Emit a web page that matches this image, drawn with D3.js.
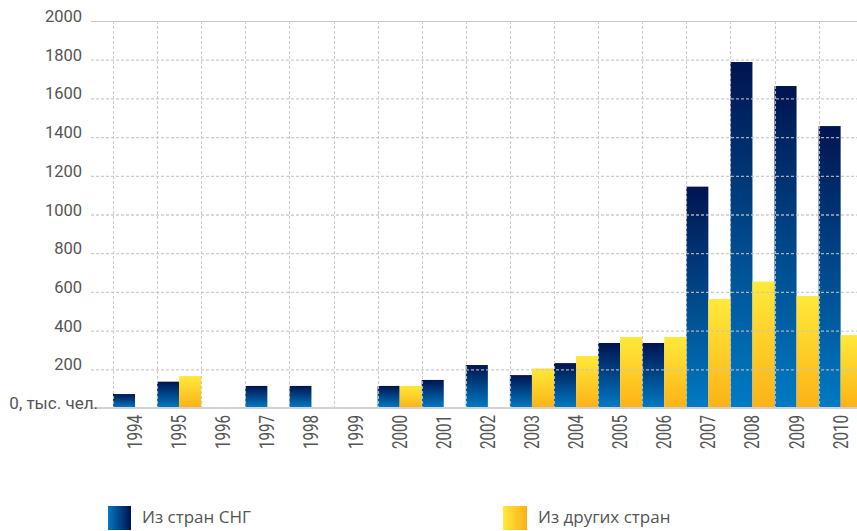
<!DOCTYPE html>
<html>
<head>
<meta charset="utf-8">
<script src="https://cdn.jsdelivr.net/npm/d3@7"></script>
<style>
  html, body { margin: 0; padding: 0; background: #fff; }
  svg { display: block; }
</style>
</head>
<body>
<svg id="chart" width="857" height="531"></svg>
<script>
const years = ["1994","1995","1996","1997","1998","1999","2000","2001","2002","2003","2004","2005","2006","2007","2008","2009","2010"];
const cisValues = [72, 136, 0, 114, 114, 0, 114, 145, 222, 170, 232, 336, 336, 1144, 1788, 1664, 1457];
const otherValues = [0, 165, 0, 0, 0, 0, 114, 0, 0, 205, 269, 367, 367, 563, 653, 579, 377];
const yTicks = [200, 400, 600, 800, 1000, 1200, 1400, 1600, 1800, 2000];
const zeroLabel = "0, тыс. чел.";
const legendLabels = ["Из стран СНГ", "Из других стран"];

const svg = d3.select("#chart");
const W = 857;
const y = d3.scaleLinear().domain([0, 2000]).range([408, 21]);
const x = d3.scaleBand().domain(years).range([113, 113 + 17 * 44.1]).padding(0);
const bw = x.bandwidth();

const defs = svg.append("defs");
function vGrad(id, top, bottom) {
  const g = defs.append("linearGradient").attr("id", id)
    .attr("x1", 0).attr("y1", 0).attr("x2", 0).attr("y2", 1);
  g.append("stop").attr("offset", "0%").attr("stop-color", top);
  g.append("stop").attr("offset", "100%").attr("stop-color", bottom);
}
function hGrad(id, left, right) {
  const g = defs.append("linearGradient").attr("id", id)
    .attr("x1", 0).attr("y1", 0).attr("x2", 1).attr("y2", 0);
  g.append("stop").attr("offset", "0%").attr("stop-color", left);
  g.append("stop").attr("offset", "100%").attr("stop-color", right);
}
vGrad("gBlue", "#001450", "#007bc4");
vGrad("gYellow", "#ffe93a", "#fcb216");
hGrad("gBlueL", "#0078c0", "#001250");
hGrad("gYellowL", "#ffe93a", "#fbb016");

// bars
const bars = svg.append("g");
bars.selectAll("rect.cis").data(years.map((yr, i) => ({yr, v: cisValues[i]})).filter(d => d.v > 0))
  .join("rect").attr("class", "cis")
  .attr("x", d => x(d.yr)).attr("width", bw / 2)
  .attr("y", d => y(d.v)).attr("height", d => y(0) - y(d.v))
  .attr("fill", "url(#gBlue)");
bars.selectAll("rect.oth").data(years.map((yr, i) => ({yr, v: otherValues[i]})).filter(d => d.v > 0))
  .join("rect").attr("class", "oth")
  .attr("x", d => x(d.yr) + bw / 2).attr("width", bw / 2)
  .attr("y", d => y(d.v)).attr("height", d => y(0) - y(d.v))
  .attr("fill", "url(#gYellow)");

// grid
const grid = svg.append("g");
grid.selectAll("line.h").data(yTicks.filter(t => t < 2000)).join("line").attr("class", "h")
  .attr("x1", 91).attr("x2", W)
  .attr("y1", d => y(d) + 0.5).attr("y2", d => y(d) + 0.5)
  .attr("stroke", "#c4c4c4").attr("stroke-opacity", 0.85)
  .attr("stroke-width", 1.3).attr("stroke-dasharray", "3,2");
grid.selectAll("line.v").data(years).join("line").attr("class", "v")
  .attr("x1", d => Math.round(x(d)) + 0.5).attr("x2", d => Math.round(x(d)) + 0.5)
  .attr("y1", y(2000)).attr("y2", y(0))
  .attr("stroke", "#c4c4c4").attr("stroke-opacity", 0.85)
  .attr("stroke-width", 1.1).attr("stroke-dasharray", "3,2");
grid.append("line").attr("x1", 91).attr("x2", W).attr("y1", y(2000) + 0.5).attr("y2", y(2000) + 0.5)
  .attr("stroke", "#c8c8c8").attr("stroke-width", 1);
grid.append("line").attr("x1", 91).attr("x2", W).attr("y1", y(0)).attr("y2", y(0))
  .attr("stroke", "#d2d2d2").attr("stroke-width", 2);

// y labels
const yl = svg.append("g").attr("font-family", "Roboto, sans-serif").attr("font-size", 16.5).attr("fill", "#555");
yl.selectAll("text").data(yTicks).join("text")
  .attr("x", 82).attr("y", d => y(d) + 1).attr("text-anchor", "end").text(d => d);
yl.append("text").attr("x", 98).attr("y", y(0) + 0.5).attr("text-anchor", "end")
  .attr("font-size", 17).text(zeroLabel);

// x labels
const xl = svg.append("g").attr("font-family", "Roboto, sans-serif").attr("font-size", 20).attr("fill", "#555");
xl.selectAll("text").data(years).join("text")
  .attr("transform", d => `translate(${x(d) + bw / 2 + 7},415) rotate(-90)`)
  .attr("text-anchor", "end")
  .attr("textLength", 34).attr("lengthAdjust", "spacingAndGlyphs")
  .text(d => d);

// legend
const lg = svg.append("g").attr("font-family", "'Open Sans', sans-serif").attr("font-size", 17).attr("fill", "#555");
lg.append("rect").attr("x", 108).attr("y", 506).attr("width", 23).attr("height", 24).attr("fill", "url(#gBlueL)");
lg.append("text").attr("x", 142).attr("y", 523).text(legendLabels[0]);
lg.append("rect").attr("x", 503).attr("y", 506).attr("width", 24).attr("height", 24).attr("fill", "url(#gYellowL)");
lg.append("text").attr("x", 538).attr("y", 523).text(legendLabels[1]);
</script>
</body>
</html>
